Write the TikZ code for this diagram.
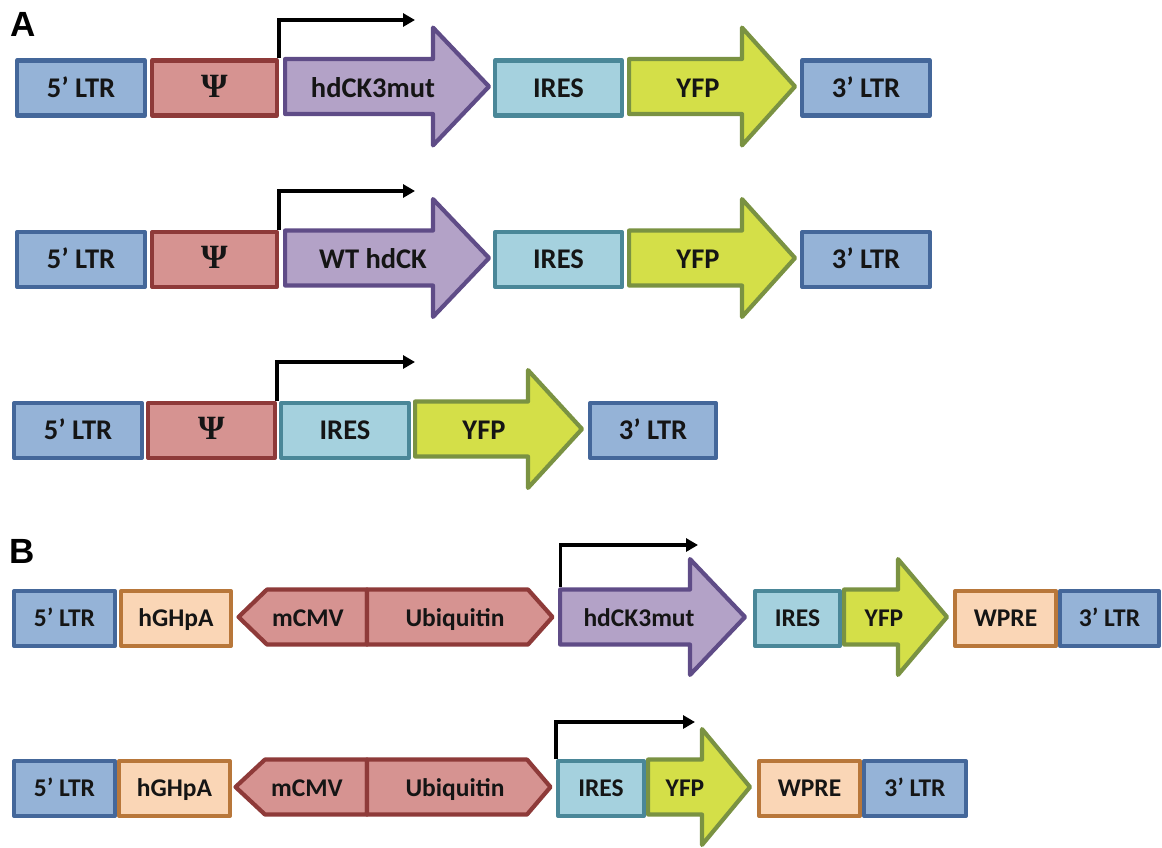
\documentclass[tikz,border=0pt]{standalone}
\usepackage{fontspec}
\setmainfont{Carlito}
\newfontfamily\psifont{Liberation Serif}
\newfontfamily\panelfont{Liberation Sans}
\usetikzlibrary{arrows.meta}
\definecolor{ltrF}{HTML}{95B3D7}\definecolor{ltrD}{HTML}{44679A}
\definecolor{psiF}{HTML}{D69391}\definecolor{psiD}{HTML}{8E3A39}
\definecolor{purF}{HTML}{B3A2C7}\definecolor{purD}{HTML}{5F4C87}
\definecolor{iresF}{HTML}{A5D1DE}\definecolor{iresD}{HTML}{4A8798}
\definecolor{yfpF}{HTML}{D4DF48}\definecolor{yfpD}{HTML}{7A9242}
\definecolor{pchF}{HTML}{FAD6B6}\definecolor{pchD}{HTML}{B8773A}
\definecolor{txt}{HTML}{151515}
\newcommand\psisym{{\psifont\bfseries\fontsize{34}{36}\selectfont Ψ}}
\tikzset{
  part/.style={line width=4.2pt, line join=round},
  ltr/.style={part, draw=ltrD, fill=ltrF},
  psi/.style={part, draw=psiD, fill=psiF},
  pur/.style={part, draw=purD, fill=purF},
  ires/.style={part, draw=iresD, fill=iresF},
  yfp/.style={part, draw=yfpD, fill=yfpF},
  pch/.style={part, draw=pchD, fill=pchF},
  lblA/.style={font=\bfseries\fontsize{28.5}{30}\selectfont, text=txt, inner sep=0pt,
     text height=18.4pt, text depth=0pt, yshift=-1.5pt},
  lblB/.style={font=\bfseries\fontsize{25.5}{28}\selectfont, text=txt, inner sep=0pt,
     text height=16.4pt, text depth=0pt, yshift=-1.5pt},
  lbl/.style={lblA},
  panel/.style={font=\panelfont\bfseries\fontsize{35}{38}\selectfont, text=black, inner sep=0pt},
  prom/.style={line width=3.2pt, draw=black, -{Triangle[length=12pt,width=13pt]}},
}
% box: name, style, x1, x2, ymid, text
\newcommand\bx[6]{%
  \pgfmathsetmacro\bxw{#4-#3-4.2}%
  \node[#2, lbl, minimum width=\bxw pt, minimum height=55pt] (#1) at ({(#3+#4)/2},#5) {#6};}
% arrow: name, style, x1, xb, xt, ymid, H, text, textx
\newcommand\arr[9]{%
  \draw[#2] ({#3+2.1},#6-27.5) -- (#4,#6-27.5) -- (#4,{#6-#7+2.1}) -- ({#5-3},#6)
     -- (#4,{#6+#7-2.1}) -- (#4,#6+27.5) -- ({#3+2.1},#6+27.5) -- cycle;
  \coordinate (#1-nw) at ({#3+2.1},#6-29.6);
  \node[lbl] (#1) at (#9,#6) {#8};}
% left hexagon half: name, tip, slant, div, ymid, textx, text
\newcommand\hexL[7]{%
  \draw[psi] ({#2+2.5},#5) -- (#3,#5-27.5) -- (#4,#5-27.5) -- (#4,#5+27.5) -- (#3,#5+27.5) -- cycle;
  \node[lbl] (#1) at (#6,#5) {#7};}
% right hexagon half: name, div, flat, tip, ymid, textx, text
\newcommand\hexR[7]{%
  \draw[psi] (#2,#5-27.5) -- (#3,#5-27.5) -- ({#4-2.5},#5) -- (#3,#5+27.5) -- (#2,#5+27.5) -- cycle;
  \node[lbl] (#1) at (#6,#5) {#7};}
\begin{document}
\begin{tikzpicture}[x=1pt,y=-1pt]
\useasboundingbox (0,0) rectangle (1162,847);
\node[panel] (labA) at (23,24) {A};
\node[panel] (labB) at (22,551) {B};

% ---------- Row A1 ----------
\tikzset{lbl/.style={lblA}}
\bx{a1l5}{ltr}{15}{147}{86.5}{5’ LTR}
\bx{a1psi}{psi}{150}{279}{86.5}{\psisym}
\arr{a1hd}{pur}{283}{433}{492}{86.5}{61}{hdCK3mut}{373}
\bx{a1ires}{ires}{493}{624}{86.5}{IRES}
\arr{a1yfp}{yfp}{627}{742}{798}{86.5}{61}{YFP}{698}
\bx{a1l3}{ltr}{800}{932}{86.5}{3’ LTR}
\coordinate (a1tip) at (415,20);
\draw[prom] (a1psi.north east) |- (a1tip);

% ---------- Row A2 ----------
\bx{a2l5}{ltr}{15}{147}{258}{5’ LTR}
\bx{a2psi}{psi}{150}{279}{258}{\psisym}
\arr{a2hd}{pur}{283}{433}{492}{258}{61}{WT hdCK}{373}
\bx{a2ires}{ires}{493}{624}{258}{IRES}
\arr{a2yfp}{yfp}{627}{742}{798}{258}{61}{YFP}{698}
\bx{a2l3}{ltr}{800}{932}{258}{3’ LTR}
\coordinate (a2tip) at (415,191);
\draw[prom] (a2psi.north east) |- (a2tip);

% ---------- Row A3 ----------
\bx{a3l5}{ltr}{12}{144}{429}{5’ LTR}
\bx{a3psi}{psi}{146}{277}{429}{\psisym}
\bx{a3ires}{ires}{279}{411}{429}{IRES}
\arr{a3yfp}{yfp}{413}{528}{585}{429}{61}{YFP}{484}
\bx{a3l3}{ltr}{588}{718}{429}{3’ LTR}
\coordinate (a3tip) at (415,362);
\draw[prom] (a3psi.north east) |- (a3tip);

% ---------- Row B1 ----------
\tikzset{lbl/.style={lblB}}
\bx{b1l5}{ltr}{12}{117}{617}{5’ LTR}
\bx{b1gh}{pch}{119}{233}{617}{hGHpA}
\hexL{b1cmv}{236}{267}{367}{617}{308}{mCMV}
\hexR{b1ubi}{367}{528}{555}{617}{455}{Ubiquitin}
\arr{b1hd}{pur}{558}{690}{748}{617}{60}{hdCK3mut}{639}
\bx{b1ires}{ires}{753}{842}{617}{IRES}
\arr{b1yfp}{yfp}{842}{898}{950}{617}{60}{YFP}{884}
\bx{b1wp}{pch}{953}{1058}{617}{WPRE}
\bx{b1l3}{ltr}{1058}{1161}{617}{3’ LTR}
\coordinate (b1tip) at (698,545);
\draw[prom] (b1hd-nw) |- (b1tip);

% ---------- Row B2 ----------
\bx{b2l5}{ltr}{12}{117}{787}{5’ LTR}
\bx{b2gh}{pch}{117}{232}{787}{hGHpA}
\hexL{b2cmv}{233}{265}{367}{787}{307}{mCMV}
\hexR{b2ubi}{367}{527}{553}{787}{455}{Ubiquitin}
\bx{b2ires}{ires}{556}{646}{787}{IRES}
\arr{b2yfp}{yfp}{646}{702}{753}{787}{60}{YFP}{685}
\bx{b2wp}{pch}{757}{862}{787}{WPRE}
\bx{b2l3}{ltr}{862}{968}{787}{3’ LTR}
\coordinate (b2tip) at (695,722);
\draw[prom] (b2ires.north west) |- (b2tip);
\end{tikzpicture}
\end{document}
